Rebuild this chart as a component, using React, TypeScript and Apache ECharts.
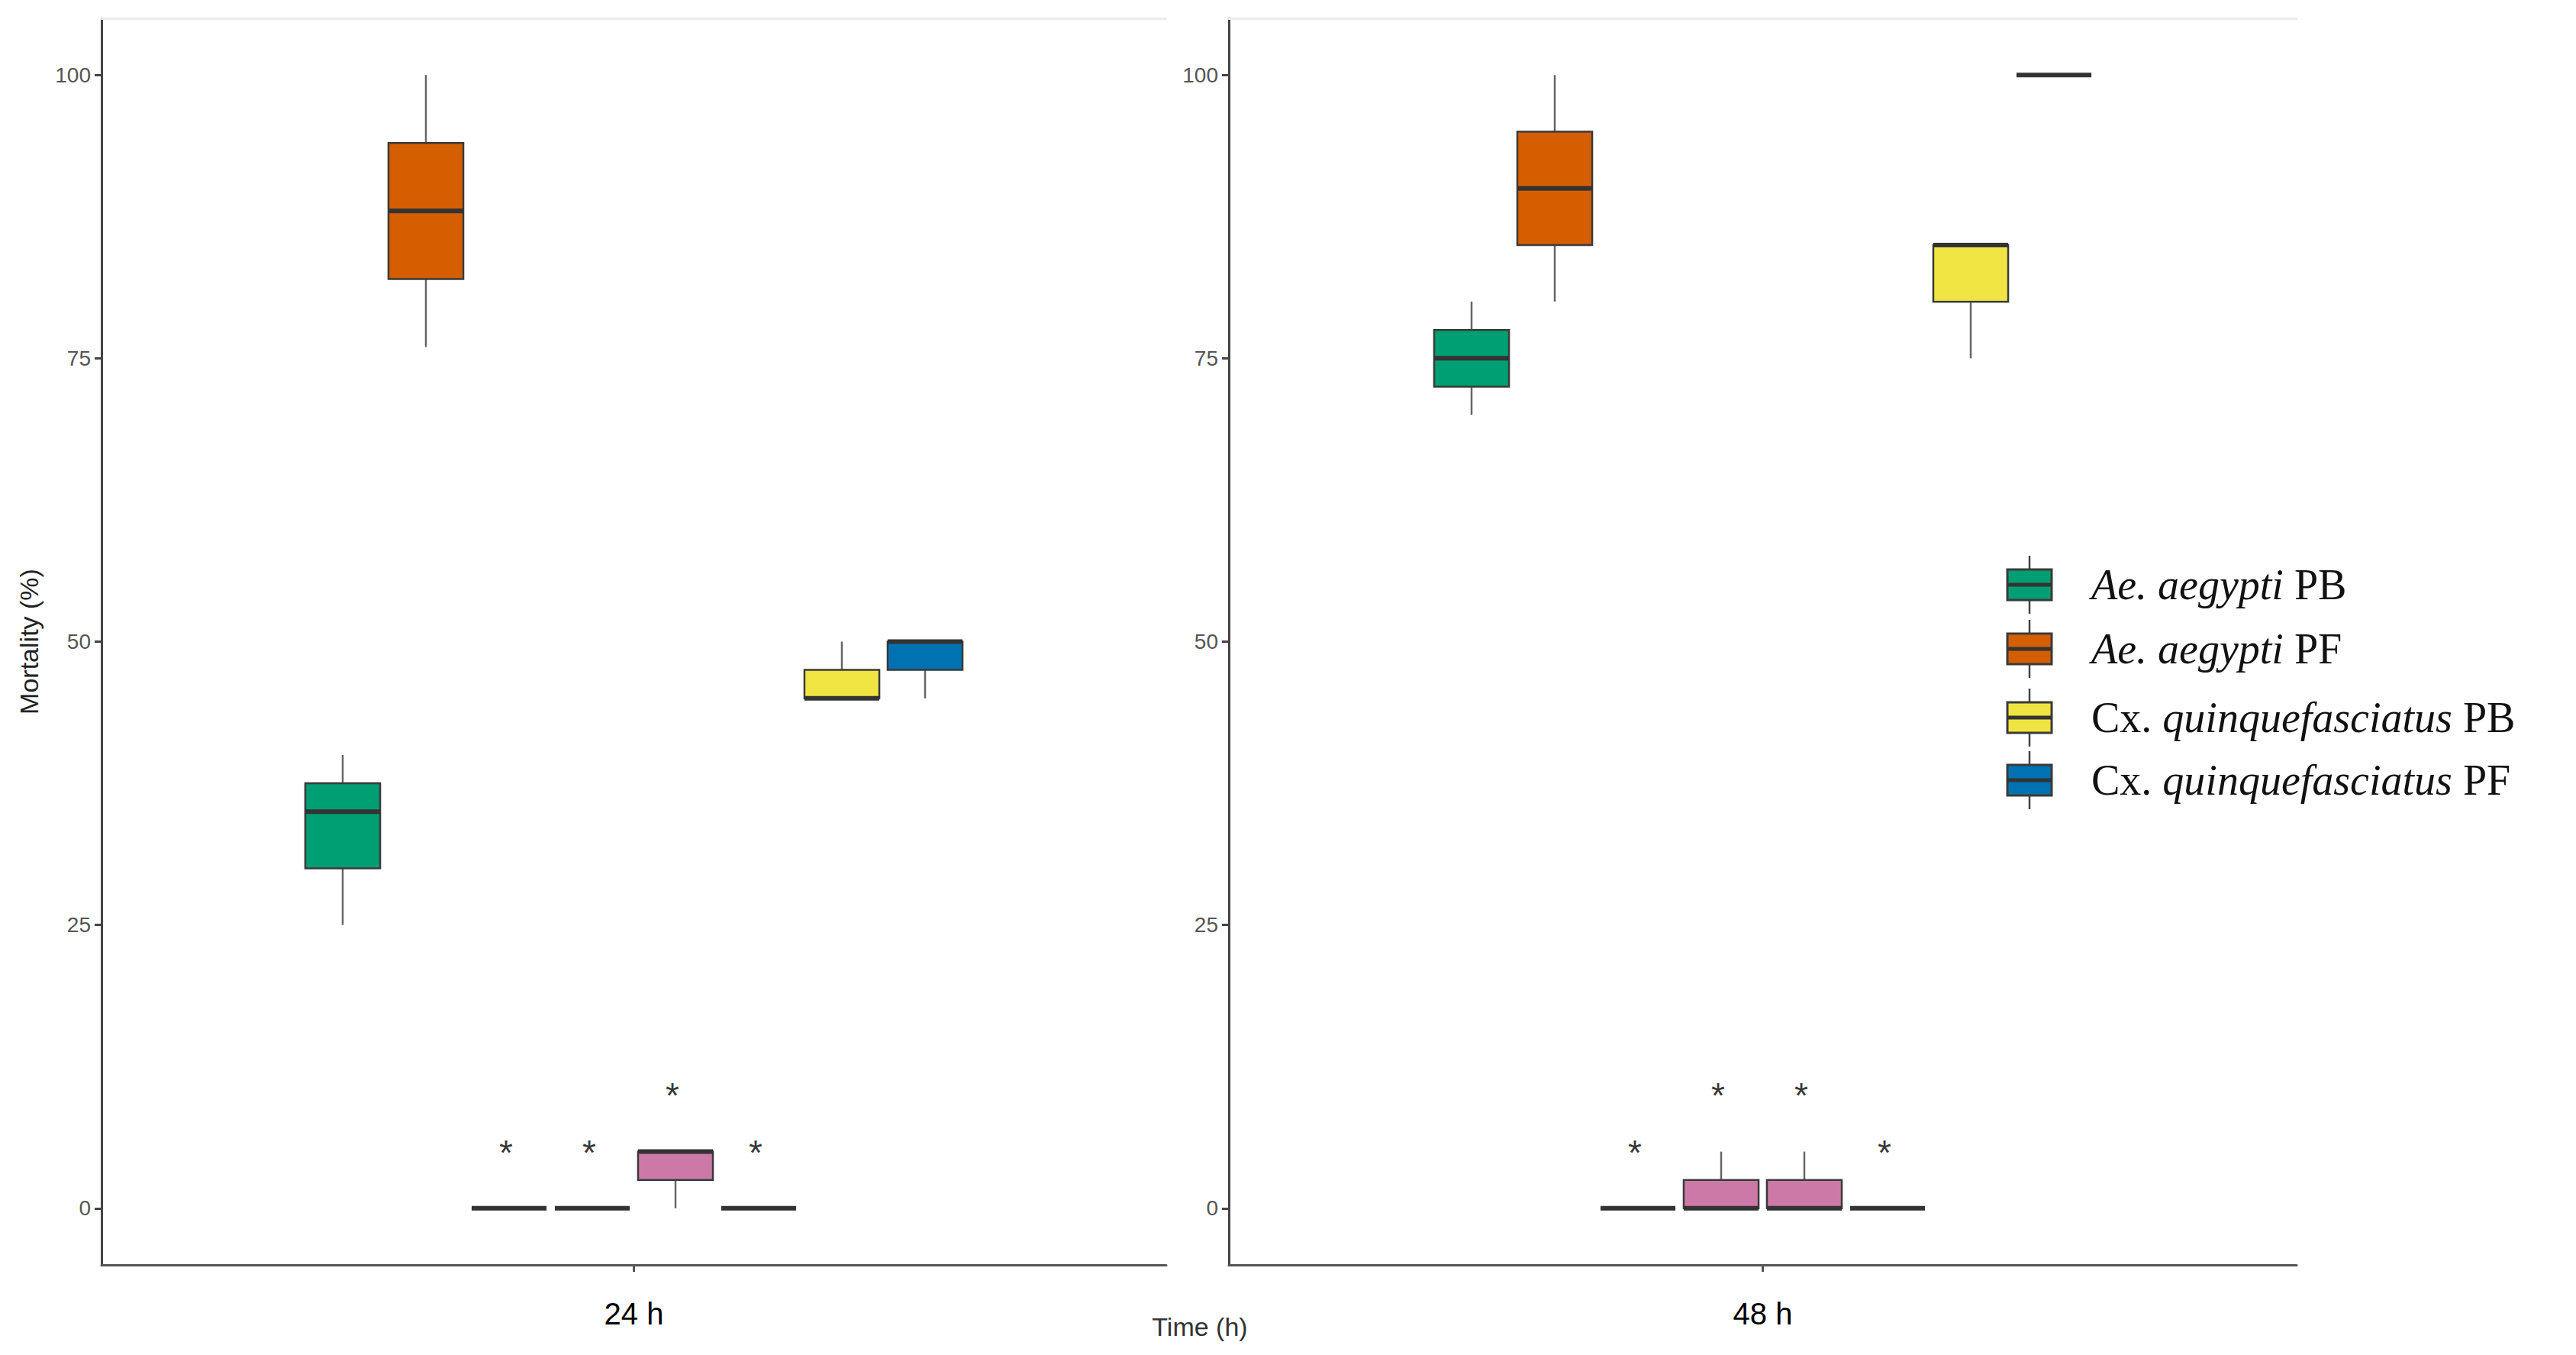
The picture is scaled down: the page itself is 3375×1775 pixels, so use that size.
import React, { useEffect, useRef } from "react";
import * as echarts from "echarts";

// ---------- data ----------
const timeLabels = ["24 h", "48 h"];
const groups = [
  "Ae. aegypti PB",
  "Ae. aegypti PF",
  "Grupo 3",
  "Grupo 4",
  "Grupo 5",
  "Grupo 6",
  "Cx. quinquefasciatus PB",
  "Cx. quinquefasciatus PF",
];
const groupColors = ["#009E73", "#D55E00", "#CC79A7", "#CC79A7", "#CC79A7", "#CC79A7", "#F0E442", "#0072B2"];
// [min, Q1, median, Q3, max]
const box24 = [
  [25, 30, 35, 37.5, 40],
  [76, 82, 88, 94, 100],
  [0, 0, 0, 0, 0],
  [0, 0, 0, 0, 0],
  [0, 2.5, 5, 5, 5],
  [0, 0, 0, 0, 0],
  [45, 45, 45, 47.5, 50],
  [45, 47.5, 50, 50, 50],
];
const box48 = [
  [70, 72.5, 75, 77.5, 80],
  [80, 85, 90, 95, 100],
  [0, 0, 0, 0, 0],
  [0, 0, 0, 2.5, 5],
  [0, 0, 0, 2.5, 5],
  [0, 0, 0, 0, 0],
  [75, 80, 85, 85, 85],
  [100, 100, 100, 100, 100],
];
// significance marks (y position of "*")
const stars24 = [null, null, 5, 5, 10, 5, null, null];
const stars48 = [null, null, 5, 10, 10, 5, null, null];
const yTicks = [0, 25, 50, 75, 100];
const legendGroups = [0, 1, 6, 7];
const legendTexts = [
  "{i|Ae. aegypti}{n| PB}",
  "{i|Ae. aegypti}{n| PF}",
  "{n|Cx. }{i|quinquefasciatus}{n| PB}",
  "{n|Cx. }{i|quinquefasciatus}{n| PF}",
];

// ---------- layout ----------
const W = 3375;
const H = 1775;
const TOP = 24;
const PH = 1633;
const frames = [
  { left: 133, width: 1395 },
  { left: 1610, width: 1399 },
];
const BOXW = 872;
const SANS = "Liberation Sans, Arial, sans-serif";
const SERIF = "Liberation Serif, Times New Roman, serif";

export default function App() {
  const ref = useRef<HTMLDivElement>(null);
  useEffect(() => {
    document.body.style.margin = "0";
    const chart = echarts.init(ref.current!, null, { renderer: "svg", width: W, height: H });

    const grids: any[] = [];
    const xAxes: any[] = [];
    const yAxes: any[] = [];
    const series: any[] = [];
    const allBoxes = [box24, box48];
    const allStars = [stars24, stars48];

    frames.forEach((f, p) => {
      const frameGrid = grids.length;
      grids.push({ left: f.left, top: TOP, width: f.width, height: PH });
      const boxGrid = grids.length;
      grids.push({ left: f.left + f.width / 2 - BOXW / 2, top: TOP, width: BOXW, height: PH });

      xAxes.push({
        gridIndex: frameGrid,
        type: "category",
        position: "bottom",
        data: [timeLabels[p]],
        axisLine: { show: true, onZero: false, lineStyle: { color: "#555", width: 3 } },
        axisTick: { show: true, alignWithLabel: true, length: 9, lineStyle: { color: "#555", width: 3 } },
        axisLabel: { fontSize: 40, color: "#000", margin: 44, fontFamily: SANS },
        splitLine: { show: false },
      });
      xAxes.push({
        gridIndex: frameGrid,
        type: "category",
        position: "top",
        data: [""],
        axisLine: { show: true, onZero: false, lineStyle: { color: "#ebebeb", width: 3 } },
        axisTick: { show: false },
        axisLabel: { show: false },
      });
      const boxX = xAxes.length;
      xAxes.push({ gridIndex: boxGrid, type: "category", data: groups, show: false });

      yAxes.push({
        gridIndex: frameGrid,
        type: "value",
        min: -5,
        max: 105,
        axisLine: { show: true, onZero: false, lineStyle: { color: "#444", width: 3 } },
        axisTick: { show: true, length: 9, customValues: yTicks, lineStyle: { color: "#444", width: 3 } },
        axisLabel: { customValues: yTicks, fontSize: 28, color: "#555", margin: 14, fontFamily: SANS },
        splitLine: { show: false },
        name: p === 0 ? "Mortality (%)" : "",
        nameLocation: "middle",
        nameGap: 78,
        nameTextStyle: { fontSize: 34, color: "#222", fontFamily: SANS },
      });
      const boxY = yAxes.length;
      yAxes.push({ gridIndex: boxGrid, type: "value", min: -5, max: 105, show: false });

      series.push({
        type: "custom",
        xAxisIndex: boxX,
        yAxisIndex: boxY,
        encode: { x: 0, y: [1, 2, 3, 4, 5] },
        data: allBoxes[p].map((b, i) => ({ value: [i, ...b], itemStyle: { color: groupColors[i] } })),
        renderItem: (params: any, api: any) => {
          const x = api.value(0);
          const pMin = api.coord([x, api.value(1)]);
          const pQ1 = api.coord([x, api.value(2)]);
          const pMed = api.coord([x, api.value(3)]);
          const pQ3 = api.coord([x, api.value(4)]);
          const pMax = api.coord([x, api.value(5)]);
          const w = api.size([1, 0])[0] * 0.9;
          const cx = pMed[0];
          const color = api.visual("color");
          return {
            type: "group",
            children: [
              { type: "line", shape: { x1: cx, y1: pQ3[1], x2: cx, y2: pMax[1] }, style: { stroke: "#666", lineWidth: 2.5 } },
              { type: "line", shape: { x1: cx, y1: pQ1[1], x2: cx, y2: pMin[1] }, style: { stroke: "#666", lineWidth: 2.5 } },
              {
                type: "rect",
                shape: { x: cx - w / 2, y: pQ3[1], width: w, height: pQ1[1] - pQ3[1] },
                style: { fill: color, stroke: "#3a3a3a", lineWidth: 2.5 },
              },
              {
                type: "line",
                shape: { x1: cx - w / 2, y1: pMed[1], x2: cx + w / 2, y2: pMed[1] },
                style: { stroke: "#333", lineWidth: 6 },
              },
            ],
          };
        },
      });

      series.push({
        type: "scatter",
        xAxisIndex: boxX,
        yAxisIndex: boxY,
        symbol: "circle",
        symbolSize: 1,
        itemStyle: { color: "rgba(0,0,0,0)" },
        data: allStars[p].map((s, i) => (s === null ? null : [i, s])).filter((d) => d !== null),
        label: {
          show: true,
          position: "inside",
          formatter: "*",
          fontSize: 46,
          color: "#000",
          fontFamily: SANS,
          offset: [-4, 1],
        },
      });
    });

    // legend drawn with graphic elements
    const rowY = [766, 850, 940, 1022];
    const iconX = 2630;
    const iconW = 58;
    const iconH = 40;
    const legendEls: any[] = [];
    legendGroups.forEach((g, k) => {
      const y = rowY[k];
      const cx = iconX + iconW / 2;
      legendEls.push({ type: "line", shape: { x1: cx, y1: y - 38, x2: cx, y2: y + 38 }, style: { stroke: "#444", lineWidth: 2.5 } });
      legendEls.push({
        type: "rect",
        shape: { x: iconX, y: y - iconH / 2, width: iconW, height: iconH },
        style: { fill: groupColors[g], stroke: "#3a3a3a", lineWidth: 3 },
      });
      legendEls.push({ type: "line", shape: { x1: iconX, y1: y, x2: iconX + iconW, y2: y }, style: { stroke: "#333", lineWidth: 5 } });
      legendEls.push({
        type: "text",
        x: 2740,
        y: y,
        style: {
          text: legendTexts[k],
          verticalAlign: "middle",
          fill: "#111",
          rich: {
            i: { fontStyle: "italic", fontFamily: SERIF, fontSize: 56, fill: "#111" },
            n: { fontFamily: SERIF, fontSize: 56, fill: "#111" },
          },
        },
      });
    });
    legendEls.push({
      type: "text",
      x: 1572,
      y: 1738,
      style: { text: "Time (h)", align: "center", verticalAlign: "middle", fontSize: 34, fontFamily: SANS, fill: "#333" },
    });

    chart.setOption({
      animation: false,
      backgroundColor: "#ffffff",
      grid: grids,
      xAxis: xAxes,
      yAxis: yAxes,
      series,
      graphic: legendEls,
    });
    return () => chart.dispose();
  }, []);
  return <div ref={ref} style={{ position: "fixed", left: 0, top: 0, width: W, height: H }} />;
}
